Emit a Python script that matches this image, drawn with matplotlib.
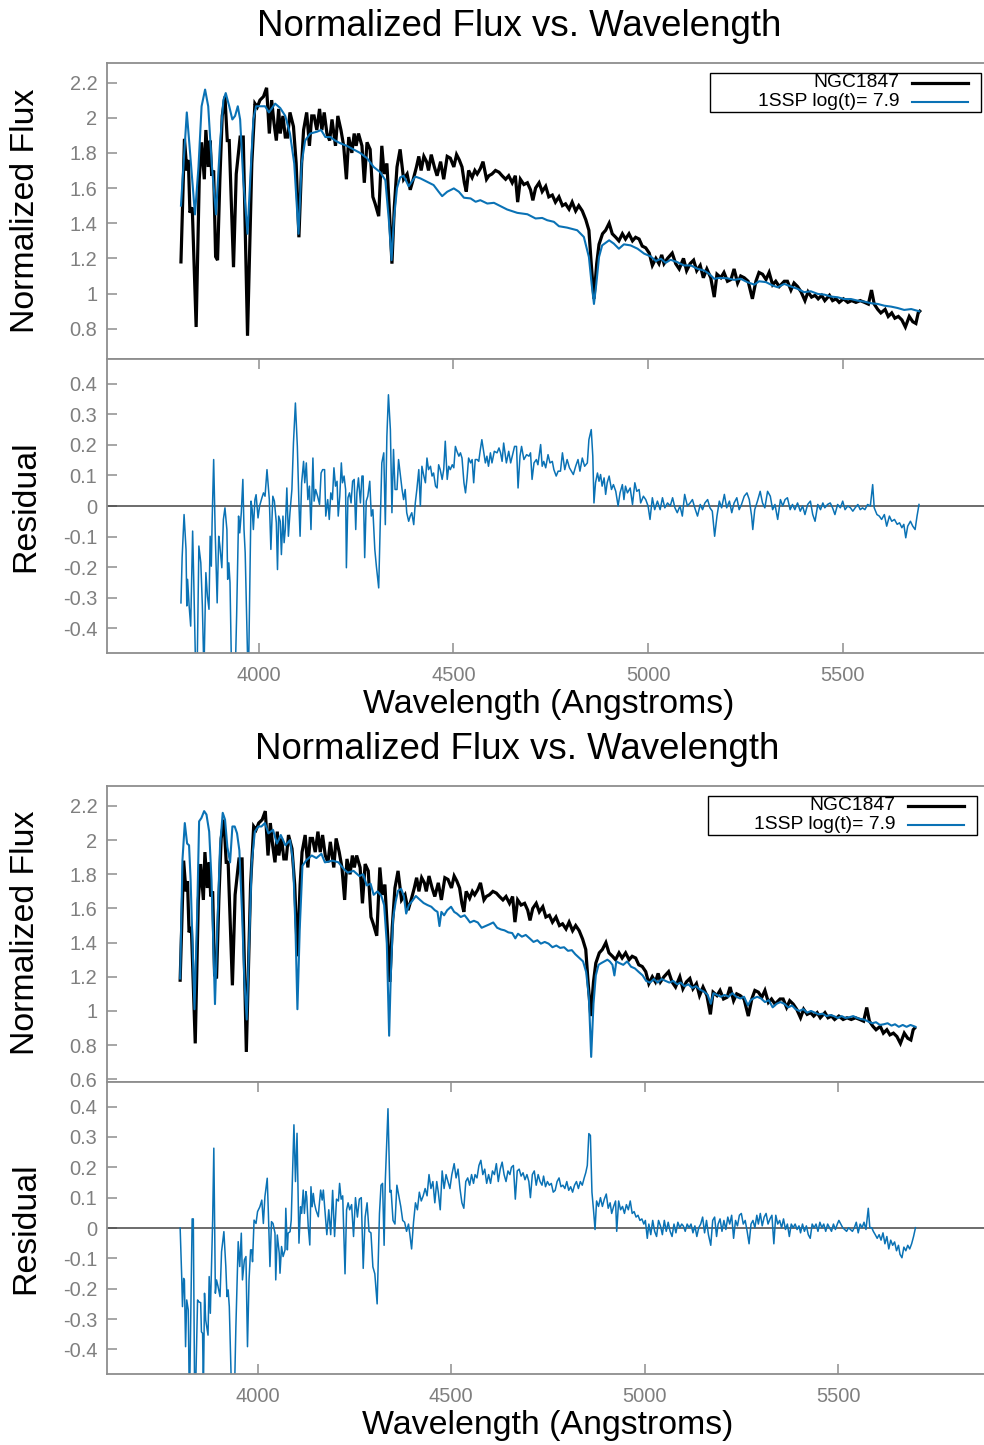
import matplotlib
matplotlib.use("Agg")
import matplotlib.pyplot as plt
from matplotlib.lines import Line2D
from matplotlib.patches import Rectangle

plt.rcParams['font.family'] = ['Liberation Sans', 'DejaVu Sans']
plt.rcParams['axes.unicode_minus'] = False

# ---------------- data ----------------
obs_wave = [3800, 3809, 3815, 3819, 3823, 3829, 3839, 3847, 3853, 3860, 3864, 3870, 3875, 3879, 3884, 3889, 3894,
            3900, 3906, 3913, 3919, 3924, 3935, 3942, 3952, 3960, 3971, 3982, 3990, 3996, 4003, 4012, 4020, 4027,
            4033, 4039, 4045, 4051, 4055, 4062, 4068, 4074, 4080, 4089, 4096, 4103, 4110, 4115, 4123, 4130, 4136,
            4142, 4149, 4156, 4162, 4168, 4175, 4182, 4188, 4197, 4203, 4211, 4218, 4225, 4231, 4239, 4245, 4250,
            4256, 4265, 4271, 4278, 4286, 4293, 4299, 4308, 4316, 4322, 4329, 4336, 4342, 4348, 4355, 4363, 4372,
            4381, 4389, 4398, 4405, 4411, 4417, 4424, 4431, 4436, 4443, 4451, 4458, 4467, 4475, 4484, 4492, 4501,
            4508, 4515, 4522, 4528, 4533, 4539, 4548, 4555, 4561, 4569, 4576, 4585, 4591, 4599, 4608, 4617, 4625,
            4634, 4642, 4651, 4659, 4665, 4672, 4681, 4690, 4698, 4704, 4711, 4720, 4728, 4737, 4745, 4754, 4762,
            4771, 4780, 4788, 4797, 4805, 4814, 4822, 4831, 4840, 4848, 4854, 4861, 4868, 4874, 4883, 4891, 4900,
            4908, 4917, 4925, 4934, 4942, 4951, 4960, 4968, 4977, 4985, 4994, 5003, 5011, 5020, 5028, 5035, 5041,
            5050, 5062, 5071, 5080, 5091, 5099, 5108, 5117, 5125, 5134, 5142, 5151, 5161, 5170, 5177, 5187, 5195,
            5204, 5213, 5221, 5230, 5238, 5247, 5257, 5268, 5277, 5285, 5294, 5303, 5311, 5320, 5328, 5337, 5350,
            5358, 5367, 5375, 5384, 5393, 5403, 5411, 5420, 5429, 5437, 5446, 5454, 5466, 5474, 5483, 5491, 5502,
            5513, 5523, 5534, 5545, 5556, 5566, 5574, 5581, 5590, 5598, 5609, 5617, 5626, 5634, 5643, 5652, 5661,
            5671, 5680, 5688, 5694, 5698]
obs_flux = [1.18, 1.88, 1.70, 1.76, 1.46, 1.49, 0.81, 1.65, 1.86, 1.65, 1.93, 1.72, 1.87, 1.67, 1.70, 1.21, 1.19,
            1.65, 2.01, 2.12, 1.87, 1.87, 1.15, 1.68, 1.89, 1.89, 0.76, 1.74, 2.08, 2.06, 2.10, 2.12, 2.17, 1.91,
            2.10, 1.97, 1.87, 2.05, 1.91, 2.01, 1.89, 1.89, 2.03, 1.95, 1.74, 1.32, 1.74, 1.93, 2.03, 1.84, 2.01,
            2.01, 1.93, 2.05, 1.93, 2.03, 1.91, 1.87, 1.99, 1.84, 2.01, 1.93, 1.84, 1.65, 1.89, 1.80, 1.91, 1.84,
            1.91, 1.84, 1.63, 1.86, 1.82, 1.55, 1.51, 1.44, 1.84, 1.68, 1.74, 1.45, 1.17, 1.49, 1.72, 1.82, 1.65,
            1.68, 1.59, 1.66, 1.72, 1.78, 1.70, 1.78, 1.75, 1.70, 1.79, 1.72, 1.67, 1.75, 1.65, 1.78, 1.77, 1.72,
            1.79, 1.76, 1.72, 1.63, 1.58, 1.70, 1.66, 1.70, 1.68, 1.71, 1.75, 1.65, 1.67, 1.68, 1.70, 1.69, 1.67,
            1.65, 1.67, 1.63, 1.67, 1.52, 1.65, 1.62, 1.63, 1.59, 1.53, 1.60, 1.63, 1.58, 1.61, 1.55, 1.56, 1.52,
            1.55, 1.50, 1.51, 1.48, 1.52, 1.47, 1.50, 1.47, 1.42, 1.36, 1.17, 0.97, 1.17, 1.28, 1.34, 1.36, 1.40,
            1.34, 1.32, 1.30, 1.34, 1.31, 1.34, 1.30, 1.32, 1.31, 1.27, 1.26, 1.23, 1.16, 1.20, 1.17, 1.22, 1.17,
            1.20, 1.23, 1.17, 1.14, 1.20, 1.13, 1.17, 1.19, 1.13, 1.16, 1.09, 1.14, 1.09, 0.98, 1.11, 1.09, 1.12,
            1.07, 1.08, 1.14, 1.06, 1.10, 1.09, 1.07, 0.97, 1.07, 1.12, 1.11, 1.08, 1.12, 1.05, 1.07, 1.04, 1.07,
            1.07, 1.02, 1.06, 1.04, 1.01, 0.96, 1.01, 0.98, 0.99, 0.97, 0.99, 0.96, 0.99, 0.96, 0.97, 0.95, 0.97,
            0.95, 0.96, 0.95, 0.96, 0.95, 0.94, 1.02, 0.94, 0.91, 0.89, 0.91, 0.87, 0.89, 0.86, 0.87, 0.85, 0.81,
            0.87, 0.84, 0.83, 0.89, 0.90]

# model of the upper figure (smooth SSP)
mod1_wave = [3800, 3815, 3822, 3836, 3845, 3853, 3862, 3870, 3879, 3890, 3900, 3909, 3915, 3924, 3932, 3939, 3946,
             3952, 3960, 3971, 3978, 3986, 3993, 4003, 4016, 4026, 4042, 4055, 4068, 4080, 4091, 4102, 4110, 4119,
             4132, 4149, 4160, 4171, 4184, 4196, 4209, 4226, 4243, 4260, 4278, 4295, 4312, 4325, 4334, 4341, 4347,
             4355, 4363, 4372, 4385, 4402, 4415, 4432, 4449, 4462, 4471, 4484, 4501, 4514, 4527, 4544, 4557, 4569,
             4587, 4604, 4621, 4638, 4664, 4690, 4711, 4728, 4741, 4758, 4771, 4792, 4818, 4835, 4848, 4855, 4861,
             4867, 4874, 4882, 4900, 4912, 4925, 4938, 4955, 4973, 4990, 5007, 5020, 5033, 5045, 5058, 5075, 5092,
             5110, 5127, 5144, 5157, 5170, 5183, 5204, 5221, 5238, 5255, 5273, 5285, 5303, 5320, 5333, 5350, 5367,
             5384, 5401, 5418, 5436, 5453, 5470, 5487, 5504, 5521, 5538, 5556, 5573, 5590, 5607, 5624, 5641, 5658,
             5676, 5697]
mod1_flux = [1.50, 2.03, 1.84, 1.45, 1.72, 2.065, 2.16, 2.065, 1.74, 1.45, 1.84, 2.10, 2.14, 2.065, 1.99, 2.01, 2.065,
             1.99, 1.65, 1.34, 1.65, 1.99, 2.065, 2.065, 2.065, 2.03, 2.08, 2.055, 2.01, 1.91, 1.74, 1.34, 1.74, 1.87,
             1.91, 1.92, 1.93, 1.89, 1.89, 1.87, 1.855, 1.84, 1.82, 1.80, 1.77, 1.72, 1.69, 1.645, 1.42, 1.19, 1.42,
             1.60, 1.66, 1.67, 1.61, 1.665, 1.655, 1.636, 1.617, 1.579, 1.554, 1.579, 1.598, 1.579, 1.545, 1.541,
             1.522, 1.531, 1.512, 1.516, 1.497, 1.478, 1.459, 1.451, 1.427, 1.430, 1.417, 1.408, 1.383, 1.375, 1.360,
             1.322, 1.208, 1.055, 0.941, 1.055, 1.208, 1.274, 1.303, 1.284, 1.255, 1.280, 1.274, 1.255, 1.227, 1.211,
             1.185, 1.198, 1.175, 1.192, 1.179, 1.16, 1.16, 1.141, 1.131, 1.112, 1.084, 1.089, 1.087, 1.078, 1.084,
             1.065, 1.051, 1.07, 1.065, 1.046, 1.036, 1.055, 1.04, 1.027, 1.008, 1.013, 0.998, 0.994, 0.983, 0.979,
             0.969, 0.969, 0.96, 0.954, 0.945, 0.941, 0.931, 0.926, 0.918, 0.907, 0.912, 0.899]

res1_wave = [3800, 3803, 3808, 3813, 3815, 3817, 3821, 3825, 3830, 3833, 3840, 3846, 3851, 3855, 3859, 3864, 3868,
             3872, 3875, 3878, 3880, 3884, 3888, 3893, 3897, 3900, 3905, 3909, 3913, 3918, 3920, 3923, 3926, 3934,
             3943, 3948, 3951, 3955, 3959, 3962, 3965, 3973, 3980, 3983, 3986, 3990, 3993, 3998, 4002, 4008, 4012,
             4016, 4021, 4027, 4031, 4036, 4040, 4045, 4048, 4051, 4055, 4058, 4062, 4065, 4068, 4072, 4076, 4080,
             4085, 4089, 4094, 4099, 4103, 4106, 4110, 4115, 4118, 4122, 4126, 4130, 4134, 4139, 4142, 4146, 4151,
             4156, 4160, 4164, 4169, 4172, 4177, 4181, 4185, 4189, 4193, 4197, 4201, 4204, 4208, 4212, 4215, 4219,
             4223, 4225, 4229, 4233, 4237, 4241, 4245, 4249, 4252, 4256, 4261, 4265, 4268, 4272, 4276, 4280, 4285,
             4289, 4293, 4298, 4302, 4308, 4312, 4316, 4321, 4325, 4329, 4333, 4338, 4342, 4346, 4350, 4355, 4359,
             4363, 4368, 4372, 4376, 4380, 4385, 4389, 4393, 4398, 4402, 4406, 4411, 4415, 4419, 4424, 4428, 4432,
             4436, 4441, 4445, 4449, 4454, 4458, 4462, 4466, 4471, 4475, 4479, 4484, 4488, 4492, 4497, 4501, 4505,
             4509, 4514, 4518, 4522, 4527, 4531, 4535, 4539, 4544, 4548, 4552, 4556, 4561, 4565, 4569, 4573, 4578,
             4582, 4586, 4590, 4595, 4599, 4605, 4612, 4617, 4621, 4625, 4629, 4636, 4642, 4647, 4651, 4657, 4662,
             4666, 4671, 4675, 4681, 4688, 4694, 4698, 4702, 4707, 4713, 4717, 4724, 4728, 4732, 4737, 4743, 4748,
             4754, 4758, 4764, 4769, 4775, 4780, 4786, 4792, 4798, 4803, 4808, 4814, 4820, 4825, 4831, 4837, 4844,
             4848, 4854, 4858, 4861, 4865, 4870, 4874, 4878, 4882, 4887, 4891, 4895, 4900, 4906, 4911, 4917, 4923,
             4928, 4934, 4938, 4942, 4947, 4954, 4960, 4966, 4971, 4977, 4981, 4988, 4994, 5000, 5005, 5011, 5017,
             5024, 5031, 5037, 5043, 5050, 5057, 5063, 5069, 5075, 5082, 5088, 5094, 5101, 5108, 5114, 5120, 5127,
             5134, 5140, 5146, 5153, 5159, 5165, 5171, 5177, 5183, 5189, 5196, 5202, 5209, 5215, 5221, 5228, 5234,
             5240, 5247, 5254, 5260, 5266, 5269, 5274, 5281, 5288, 5294, 5300, 5307, 5314, 5320, 5326, 5333, 5340,
             5346, 5352, 5358, 5365, 5371, 5377, 5384, 5391, 5397, 5403, 5410, 5417, 5423, 5429, 5436, 5443, 5449,
             5454, 5461, 5468, 5474, 5480, 5487, 5494, 5500, 5506, 5513, 5520, 5526, 5532, 5539, 5545, 5551, 5557,
             5564, 5571, 5577, 5581, 5588, 5594, 5600, 5607, 5613, 5620, 5626, 5633, 5640, 5646, 5652, 5657, 5662,
             5667, 5674, 5680, 5686, 5691, 5696]
res1_val = [-0.317, -0.169, -0.028, -0.142, -0.327, -0.24, -0.327, -0.393, -0.082, -0.251, -0.68, -0.131, -0.186,
            -0.327, -0.55, -0.218, -0.295, -0.338, -0.099, -0.197, -0.055, 0.152, -0.088, -0.317, -0.099, -0.131,
            -0.202, -0.044, -0.006, -0.077, -0.24, -0.186, -0.251, -0.84, -0.36, -0.033, -0.088, -0.022, 0.087,
            -0.077, -0.153, -0.60, 0.016, -0.012, -0.077, 0.021, 0.037, -0.039, 0.0, 0.027, 0.043, 0.032, 0.119,
            0.021, -0.142, 0.032, 0.016, -0.055, -0.208, -0.033, -0.05, -0.159, -0.033, -0.12, -0.077, 0.059,
            -0.099, -0.022, 0.054, 0.206, 0.337, 0.195, 0.01, -0.099, 0.076, 0.146, 0.076, 0.141, 0.021, 0.065,
            -0.077, 0.157, 0.016, 0.054, 0.032, 0.005, 0.108, 0.119, 0.119, -0.033, 0.021, -0.044, 0.043, 0.021,
            0.125, 0.065, 0.081, -0.033, 0.032, 0.141, 0.076, 0.098, 0.054, -0.202, 0.027, 0.043, 0.01, 0.081,
            0.087, -0.077, 0.043, 0.092, 0.01, 0.098, 0.098, -0.169, 0.016, 0.032, 0.081, -0.033, -0.012, -0.142,
            -0.197, -0.268, -0.055, 0.141, 0.174, -0.061, 0.228, 0.364, 0.25, -0.022, 0.185, 0.054, 0.054, 0.152,
            0.108, 0.054, 0.021, 0.054, -0.022, -0.05, -0.033, -0.022, -0.061, 0.01, 0.054, 0.119, 0.0, 0.13,
            0.098, 0.076, 0.157, 0.119, 0.13, 0.098, 0.108, 0.065, 0.059, 0.135, 0.119, 0.087, 0.119, 0.212, 0.087,
            0.13, 0.119, 0.135, 0.125, 0.195, 0.179, 0.163, 0.174, 0.157, 0.076, 0.043, 0.092, 0.157, 0.141, 0.152,
            0.076, 0.152, 0.152, 0.146, 0.184, 0.217, 0.174, 0.141, 0.163, 0.13, 0.174, 0.141, 0.179, 0.174, 0.19,
            0.174, 0.146, 0.206, 0.141, 0.179, 0.141, 0.163, 0.195, 0.195, 0.059, 0.163, 0.195, 0.152, 0.168, 0.163,
            0.174, 0.087, 0.141, 0.152, 0.135, 0.201, 0.13, 0.146, 0.125, 0.168, 0.141, 0.146, 0.119, 0.098, 0.114,
            0.114, 0.174, 0.119, 0.152, 0.125, 0.114, 0.103, 0.13, 0.152, 0.114, 0.157, 0.13, 0.141, 0.217, 0.25,
            0.163, 0.01, 0.076, 0.108, 0.081, 0.103, 0.065, 0.092, 0.038, 0.076, 0.098, 0.054, 0.07, 0.048, 0.0,
            0.043, 0.07, 0.021, 0.065, 0.043, 0.059, 0.005, 0.076, 0.048, 0.054, 0.01, 0.032, 0.021, 0.0, -0.044,
            0.027, -0.012, 0.016, -0.012, 0.027, -0.006, 0.01, 0.0, 0.027, -0.006, -0.022, 0.0, -0.033, 0.038, 0.0,
            0.01, 0.021, -0.006, -0.033, 0.005, -0.012, 0.01, 0.021, -0.006, -0.017, -0.099, -0.033, 0.016, -0.006,
            0.038, -0.006, 0.016, -0.022, 0.01, 0.027, -0.012, 0.005, 0.032, 0.043, 0.021, -0.033, -0.077, -0.012,
            0.016, 0.048, 0.01, -0.006, 0.048, 0.032, -0.012, 0.005, -0.044, 0.021, 0.0, 0.021, 0.027, -0.012,
            0.005, -0.012, 0.01, -0.017, 0.0, -0.028, 0.005, 0.016, -0.028, -0.05, 0.005, -0.012, 0.01, -0.006,
            0.005, 0.01, -0.006, -0.028, 0.005, -0.006, 0.016, -0.012, 0.0, -0.006, -0.017, -0.006, 0.005, -0.012,
            -0.006, -0.012, 0.005, 0.0, 0.07, -0.006, -0.028, -0.033, -0.044, -0.028, -0.066, -0.033, -0.05, -0.044,
            -0.06, -0.055, -0.071, -0.06, -0.104, -0.066, -0.05, -0.066, -0.077, -0.033, 0.005]

# model of the lower figure
mod2_wave = [3800, 3806, 3812, 3818, 3823, 3827, 3837, 3844, 3849, 3855,
             3862, 3868, 3875, 3881, 3890, 3896, 3903, 3910, 3916, 3922,
             3929, 3935, 3941, 3947, 3953, 3960, 3966, 3972, 3978, 3985,
             3993, 4002, 4010, 4019, 4028, 4040, 4050, 4060, 4072, 4084,
             4092, 4098, 4103, 4109, 4116, 4127, 4140, 4152, 4165, 4174,
             4194, 4209, 4223, 4233, 4248, 4263, 4273, 4282, 4292, 4300,
             4310, 4320, 4327, 4334, 4340, 4344, 4350, 4357, 4363, 4371,
             4378, 4384, 4391, 4399, 4409, 4419, 4429, 4439, 4449, 4458,
             4465, 4470, 4475, 4482, 4490, 4500, 4508, 4515, 4525, 4535,
             4542, 4549, 4559, 4569, 4579, 4589, 4599, 4609, 4619, 4629,
             4638, 4648, 4658, 4666, 4673, 4683, 4693, 4703, 4713, 4723,
             4732, 4742, 4752, 4762, 4772, 4782, 4792, 4802, 4812, 4821,
             4831, 4841, 4849, 4856, 4862, 4868, 4874, 4881, 4888, 4896,
             4904, 4910, 4917, 4922, 4927, 4935, 4945, 4955, 4965, 4975,
             4985, 4995, 5004, 5014, 5024, 5034, 5044, 5054, 5064, 5074,
             5084, 5093, 5103, 5113, 5123, 5133, 5143, 5153, 5163, 5171,
             5178, 5187, 5197, 5207, 5217, 5227, 5237, 5247, 5257, 5267,
             5274, 5281, 5291, 5301, 5311, 5321, 5331, 5341, 5351, 5361,
             5371, 5381, 5390, 5400, 5410, 5420, 5430, 5440, 5450, 5460,
             5470, 5480, 5489, 5499, 5509, 5519, 5529, 5539, 5549, 5558,
             5568, 5578, 5588, 5598, 5608, 5618, 5628, 5638, 5647, 5657,
             5667, 5677, 5687, 5700]
mod2_flux = [1.19, 1.885, 2.10, 1.98, 1.97, 1.77, 1.01, 1.57, 2.11, 2.13,
             2.17, 2.15, 2.05, 1.77, 1.04, 1.48, 1.96, 2.16, 2.12, 1.96,
             1.87, 2.08, 2.08, 2.04, 1.94, 1.57, 1.18, 0.95, 1.38, 1.87,
             2.05, 2.08, 2.08, 2.10, 2.04, 2.06, 1.98, 2.03, 1.97, 2.00,
             1.87, 1.48, 1.01, 1.48, 1.85, 1.885, 1.91, 1.895, 1.92, 1.87,
             1.88, 1.87, 1.83, 1.81, 1.82, 1.79, 1.80, 1.735, 1.745, 1.68,
             1.70, 1.673, 1.62, 1.394, 0.855, 1.19, 1.54, 1.642, 1.704, 1.715,
             1.673, 1.57, 1.62, 1.642, 1.673, 1.652, 1.632, 1.62, 1.61, 1.59,
             1.58, 1.497, 1.58, 1.56, 1.59, 1.61, 1.58, 1.57, 1.55, 1.56,
             1.54, 1.518, 1.528, 1.518, 1.487, 1.497, 1.507, 1.518, 1.487, 1.477,
             1.472, 1.46, 1.456, 1.425, 1.452, 1.435, 1.445, 1.425, 1.404, 1.414,
             1.394, 1.404, 1.394, 1.373, 1.383, 1.369, 1.373, 1.352, 1.356, 1.332,
             1.311, 1.29, 1.228, 1.083, 0.731, 1.042, 1.208, 1.27, 1.28, 1.29,
             1.30, 1.29, 1.27, 1.208, 1.29, 1.28, 1.27, 1.29, 1.259, 1.249,
             1.228, 1.208, 1.176, 1.166, 1.187, 1.166, 1.187, 1.176, 1.166, 1.176,
             1.156, 1.166, 1.145, 1.156, 1.135, 1.145, 1.125, 1.114, 1.094, 1.042,
             1.104, 1.094, 1.083, 1.094, 1.083, 1.104, 1.083, 1.073, 1.083, 1.032,
             1.063, 1.073, 1.083, 1.073, 1.052, 1.063, 1.021, 1.042, 1.052, 1.042,
             1.021, 1.032, 1.011, 1.0, 1.011, 0.99, 1.0, 0.99, 0.98, 0.984,
             0.97, 0.976, 0.97, 0.959, 0.97, 0.959, 0.963, 0.97, 0.959, 0.953,
             0.949, 0.938, 0.928, 0.934, 0.918, 0.922, 0.928, 0.914, 0.922, 0.907,
             0.918, 0.907, 0.918, 0.907]

res2_wave = [3800, 3804, 3806, 3809, 3811, 3814, 3817, 3821, 3824, 3831,
             3834, 3838, 3845, 3848, 3853, 3855, 3858, 3860, 3863, 3866,
             3872, 3875, 3878, 3884, 3887, 3891, 3894, 3898, 3903, 3907,
             3913, 3918, 3921, 3924, 3927, 3937, 3944, 3950, 3954, 3958,
             3961, 3966, 3970, 3974, 3978, 3982, 3985, 3987, 3991, 3996,
             4000, 4006, 4011, 4015, 4019, 4025, 4028, 4032, 4036, 4040,
             4045, 4047, 4051, 4056, 4058, 4062, 4066, 4071, 4073, 4077,
             4079, 4084, 4087, 4090, 4094, 4098, 4102, 4107, 4111, 4114,
             4118, 4121, 4125, 4127, 4131, 4135, 4138, 4141, 4144, 4147,
             4151, 4157, 4159, 4163, 4167, 4170, 4179, 4184, 4189, 4194,
             4199, 4204, 4209, 4212, 4216, 4220, 4226, 4230, 4234, 4238,
             4243, 4248, 4253, 4258, 4263, 4268, 4273, 4278, 4283, 4288,
             4293, 4298, 4303, 4309, 4315, 4319, 4323, 4327, 4330, 4337,
             4342, 4345, 4350, 4355, 4360, 4365, 4370, 4375, 4380, 4385,
             4390, 4393, 4398, 4403, 4408, 4413, 4418, 4423, 4428, 4433,
             4438, 4443, 4448, 4453, 4458, 4463, 4467, 4472, 4477, 4482,
             4487, 4492, 4497, 4502, 4508, 4513, 4518, 4523, 4528, 4533,
             4538, 4543, 4548, 4553, 4558, 4562, 4567, 4572, 4577, 4582,
             4587, 4592, 4597, 4602, 4607, 4612, 4617, 4622, 4627, 4632,
             4637, 4642, 4647, 4652, 4656, 4661, 4666, 4671, 4676, 4681,
             4686, 4691, 4696, 4701, 4705, 4710, 4715, 4720, 4725, 4730,
             4735, 4739, 4744, 4749, 4754, 4759, 4764, 4769, 4774, 4779,
             4784, 4789, 4794, 4799, 4804, 4809, 4814, 4819, 4824, 4829,
             4834, 4839, 4844, 4848, 4852, 4856, 4860, 4864, 4868, 4872,
             4876, 4881, 4886, 4891, 4896, 4901, 4906, 4911, 4915, 4920,
             4925, 4928, 4933, 4938, 4943, 4948, 4953, 4958, 4963, 4968,
             4973, 4978, 4983, 4988, 4993, 4998, 5002, 5007, 5011, 5016,
             5021, 5026, 5031, 5036, 5041, 5046, 5051, 5056, 5061, 5066,
             5071, 5076, 5081, 5086, 5091, 5096, 5100, 5105, 5110, 5115,
             5120, 5125, 5130, 5135, 5140, 5145, 5150, 5155, 5160, 5165,
             5171, 5176, 5181, 5186, 5190, 5195, 5200, 5205, 5210, 5215,
             5220, 5225, 5230, 5235, 5240, 5245, 5250, 5255, 5260, 5265,
             5270, 5275, 5280, 5285, 5290, 5294, 5299, 5304, 5309, 5314,
             5319, 5324, 5329, 5334, 5339, 5344, 5349, 5354, 5359, 5364,
             5369, 5374, 5379, 5384, 5389, 5394, 5399, 5403, 5408, 5413,
             5418, 5423, 5428, 5433, 5438, 5443, 5448, 5453, 5458, 5463,
             5468, 5473, 5478, 5483, 5488, 5493, 5498, 5502, 5507, 5512,
             5517, 5522, 5527, 5532, 5537, 5542, 5547, 5552, 5557, 5562,
             5567, 5572, 5578, 5582, 5587, 5591, 5596, 5601, 5606, 5611,
             5616, 5621, 5626, 5631, 5636, 5641, 5646, 5651, 5656, 5660,
             5665, 5670, 5675, 5680, 5685, 5690, 5695, 5700]
res2_val = [0.0, -0.160, -0.259, -0.166, -0.171, -0.391, -0.237, -0.270, -0.60, 0.03,
            0.03, -0.65, -0.237, -0.243, -0.246, -0.342, -0.347, -0.55, -0.215, -0.303,
            -0.353, -0.160, -0.281, 0.026, 0.263, -0.215, -0.171, -0.193, -0.226, -0.078,
            -0.012, -0.127, -0.226, -0.204, -0.259, -0.75, -0.325, -0.045, -0.127, -0.017,
            -0.171, -0.105, -0.094, -0.391, -0.171, -0.072, -0.072, -0.111, 0.026, 0.015,
            0.054, 0.070, 0.092, 0.015, 0.103, 0.164, 0.048, -0.127, 0.021, 0.015,
            -0.017, -0.171, -0.023, -0.083, -0.149, -0.061, -0.094, -0.072, 0.065, -0.072,
            -0.017, -0.012, 0.026, 0.158, 0.340, 0.153, 0.312, -0.050, 0.070, 0.048,
            0.125, 0.048, 0.120, 0.103, 0.004, -0.056, 0.136, 0.070, 0.114, 0.081,
            0.059, 0.037, 0.070, 0.125, 0.092, 0.125, -0.022, 0.06, -0.022, 0.124,
            -0.028, 0.095, 0.089, 0.147, 0.095, 0.106, -0.151, 0.06, 0.083, 0.06,
            0.077, -0.028, 0.1, 0.036, 0.095, 0.1, -0.133, 0.036, 0.083, -0.011,
            -0.016, -0.128, -0.151, -0.25, 0.048, 0.141, 0.147, -0.057, 0.153, 0.393,
            0.118, 0.124, 0.025, 0.013, 0.141, 0.106, 0.071, 0.025, 0.019, -0.011,
            0.013, -0.016, -0.069, 0.019, 0.083, 0.06, 0.118, 0.089, 0.106, 0.13,
            0.106, 0.176, 0.13, 0.153, 0.083, 0.153, 0.118, 0.06, 0.188, 0.13,
            0.176, 0.153, 0.13, 0.176, 0.212, 0.165, 0.194, 0.13, 0.083, 0.065,
            0.153, 0.165, 0.141, 0.176, 0.147, 0.176, 0.165, 0.206, 0.223, 0.176,
            0.194, 0.147, 0.176, 0.147, 0.188, 0.176, 0.212, 0.153, 0.194, 0.217,
            0.176, 0.153, 0.188, 0.176, 0.2, 0.206, 0.095, 0.188, 0.194, 0.171,
            0.182, 0.159, 0.176, 0.153, 0.1, 0.176, 0.188, 0.141, 0.176, 0.153,
            0.141, 0.171, 0.136, 0.153, 0.141, 0.147, 0.118, 0.124, 0.153, 0.165,
            0.136, 0.141, 0.13, 0.153, 0.124, 0.136, 0.118, 0.141, 0.153, 0.13,
            0.153, 0.141, 0.165, 0.182, 0.206, 0.311, 0.305, 0.118, 0.06, -0.005,
            0.089, 0.071, 0.1, 0.071, 0.095, 0.112, 0.065, 0.083, 0.048, 0.071,
            0.089, -0.011, 0.089, 0.06, 0.071, 0.048, 0.077, 0.06, 0.089, 0.048,
            0.054, 0.036, 0.042, 0.025, 0.03, 0.013, 0.025, -0.034, 0.013, -0.022,
            0.025, -0.011, -0.028, 0.025, 0.007, -0.022, 0.025, -0.011, 0.019, -0.011,
            -0.028, 0.013, -0.016, 0.019, 0.001, 0.013, 0.007, -0.011, 0.013, 0.001,
            0.013, -0.016, 0.007, -0.028, 0.001, 0.013, 0.036, -0.016, 0.025, -0.022,
            -0.057, 0.025, 0.036, -0.028, 0.013, 0.03, -0.011, 0.025, -0.005, 0.036,
            0.013, 0.042, -0.034, 0.025, 0.007, 0.042, 0.048, 0.013, 0.025, -0.011,
            -0.052, 0.013, 0.025, 0.001, 0.042, 0.013, 0.048, 0.007, 0.036, 0.048,
            0.013, 0.03, 0.042, -0.052, 0.042, 0.013, 0.025, 0.001, 0.03, -0.005,
            0.013, -0.028, 0.013, 0.001, 0.013, -0.005, 0.007, -0.016, 0.013, -0.011,
            0.007, -0.022, -0.034, 0.013, 0.001, 0.013, -0.011, 0.019, 0.001, 0.013,
            -0.011, 0.013, 0.001, -0.011, 0.013, -0.005, 0.013, 0.025, 0.013, 0.001,
            -0.005, -0.011, 0.001, -0.005, -0.011, 0.001, 0.019, -0.016, 0.013, 0.001,
            0.019, -0.005, 0.065, 0.001, 0.001, -0.011, -0.022, -0.034, -0.022, -0.04,
            -0.016, -0.052, -0.028, -0.069, -0.04, -0.057, -0.046, -0.075, -0.057, -0.087,
            -0.098, -0.063, -0.075, -0.057, -0.069, -0.052, -0.028, 0.001]

obs_label = "NGC1847"
mod_label = "1SSP log(t)= 7.9"
title = "Normalized Flux vs. Wavelength"
flux_ticks = [0.6, 0.8, 1.0, 1.2, 1.4, 1.6, 1.8, 2.0, 2.2]
flux_ticklabels = ["0.6", "0.8", "1", "1.2", "1.4", "1.6", "1.8", "2", "2.2"]
res_ticks = [-0.4, -0.3, -0.2, -0.1, 0.0, 0.1, 0.2, 0.3, 0.4]
res_ticklabels = ["-0.4", "-0.3", "-0.2", "-0.1", "0", "0.1", "0.2", "0.3", "0.4"]
wave_ticks = [4000, 4500, 5000, 5500]

# ---------------- styling / layout ----------------
W, H = 984, 1445
fig = plt.figure(figsize=(W / 100, H / 100), dpi=100)


def fx(px):
    return px / W


def fy(py):
    return 1 - py / H


SPINE = '#8e8e8e'
TICKLAB = '#7f7f7f'
BLUE = '#0a72b5'
TICKFS = 14.4
LABFS = 24.4
TITLEFS = 26.4
LEGFS = 13.9


def make_axes(top, bottom):
    ax = fig.add_axes([fx(107), fy(bottom), 1 - fx(107), (bottom - top) / H])
    for side in ('left', 'top', 'bottom'):
        ax.spines[side].set_color(SPINE)
        ax.spines[side].set_linewidth(1.3)
    ax.spines['right'].set_visible(False)
    ax.tick_params(axis='y', direction='in', length=7, width=1.1, color=SPINE,
                   labelcolor=TICKLAB, labelsize=TICKFS, pad=7, right=False)
    return ax


def flux_panel(top, bottom, xlim, ylim, mwave, mflux, leg):
    ax = make_axes(top, bottom)
    ax.set_yticks(flux_ticks)
    ax.set_yticklabels(flux_ticklabels)
    ax.tick_params(axis='x', bottom=False, top=False, labelbottom=False)
    ax.plot(obs_wave, obs_flux, color='black', lw=2.3, solid_joinstyle='miter')
    ax.plot(mwave, mflux, color=BLUE, lw=1.5)
    ax.set_xlim(*xlim)
    ax.set_ylim(*ylim)
    # legend box (gnuplot-like, right-justified text)
    x0, y0, x1, y1 = leg
    fig.add_artist(Rectangle((fx(x0), fy(y1)), (x1 - x0) / W, (y1 - y0) / H,
                             transform=fig.transFigure, fill=False, ec='black', lw=1.0))
    rows = [(obs_label, 'black', 2.3), (mod_label, BLUE, 1.5)]
    for i, (lab, col, lw) in enumerate(rows):
        ly = y0 + 10 + 19 * i
        fig.text(fx(x1 - 82), fy(ly + 4), lab, ha='right', va='baseline', fontsize=LEGFS, color='black')
        fig.add_artist(Line2D([fx(x1 - 69), fx(x1 - 13)], [fy(ly), fy(ly)],
                              transform=fig.transFigure, color=col, lw=lw))
    return ax


def res_panel(top, bottom, xlim, rwave, rval):
    ax = make_axes(top, bottom)
    ax.set_yticks(res_ticks)
    ax.set_yticklabels(res_ticklabels)
    ax.set_xticks(wave_ticks)
    ax.set_xticklabels([str(t) for t in wave_ticks])
    ax.tick_params(axis='x', direction='in', length=7, width=1.1, color=SPINE,
                   labelcolor=TICKLAB, labelsize=TICKFS, pad=9, top=True, bottom=True)
    ax.axhline(0, color='#444444', lw=1.1)
    ax.plot(rwave, rval, color=BLUE, lw=1.1)
    ax.set_xlim(*xlim)
    ax.set_ylim(-0.481, 0.481)
    return ax


# upper figure
XLIM1 = (3610, 5863)
fig.text(fx(519), fy(36), title, ha='center', va='baseline', fontsize=TITLEFS)
flux_panel(63, 359, XLIM1, (0.628, 2.311), mod1_wave, mod1_flux, (710, 73, 981, 112))
res_panel(359, 653, XLIM1, res1_wave, res1_val)
fig.text(fx(26), fy(211), 'Normalized Flux', rotation=90, ha='center', va='center', fontsize=LABFS)
fig.text(fx(26), fy(506), 'Residual', rotation=90, ha='center', va='center', fontsize=LABFS)
fig.text(fx(549), fy(713), 'Wavelength (Angstroms)', ha='center', va='baseline', fontsize=LABFS)

# lower figure
XLIM2 = (3611, 5877)
fig.text(fx(517), fy(759), title, ha='center', va='baseline', fontsize=TITLEFS)
flux_panel(786, 1082, XLIM2, (0.584, 2.317), mod2_wave, mod2_flux, (708, 796, 977, 835))
res_panel(1082, 1374, XLIM2, res2_wave, res2_val)
fig.text(fx(26), fy(933), 'Normalized Flux', rotation=90, ha='center', va='center', fontsize=LABFS)
fig.text(fx(26), fy(1228), 'Residual', rotation=90, ha='center', va='center', fontsize=LABFS)
fig.text(fx(548), fy(1434), 'Wavelength (Angstroms)', ha='center', va='baseline', fontsize=LABFS)

fig.savefig('out.png', dpi=100)
